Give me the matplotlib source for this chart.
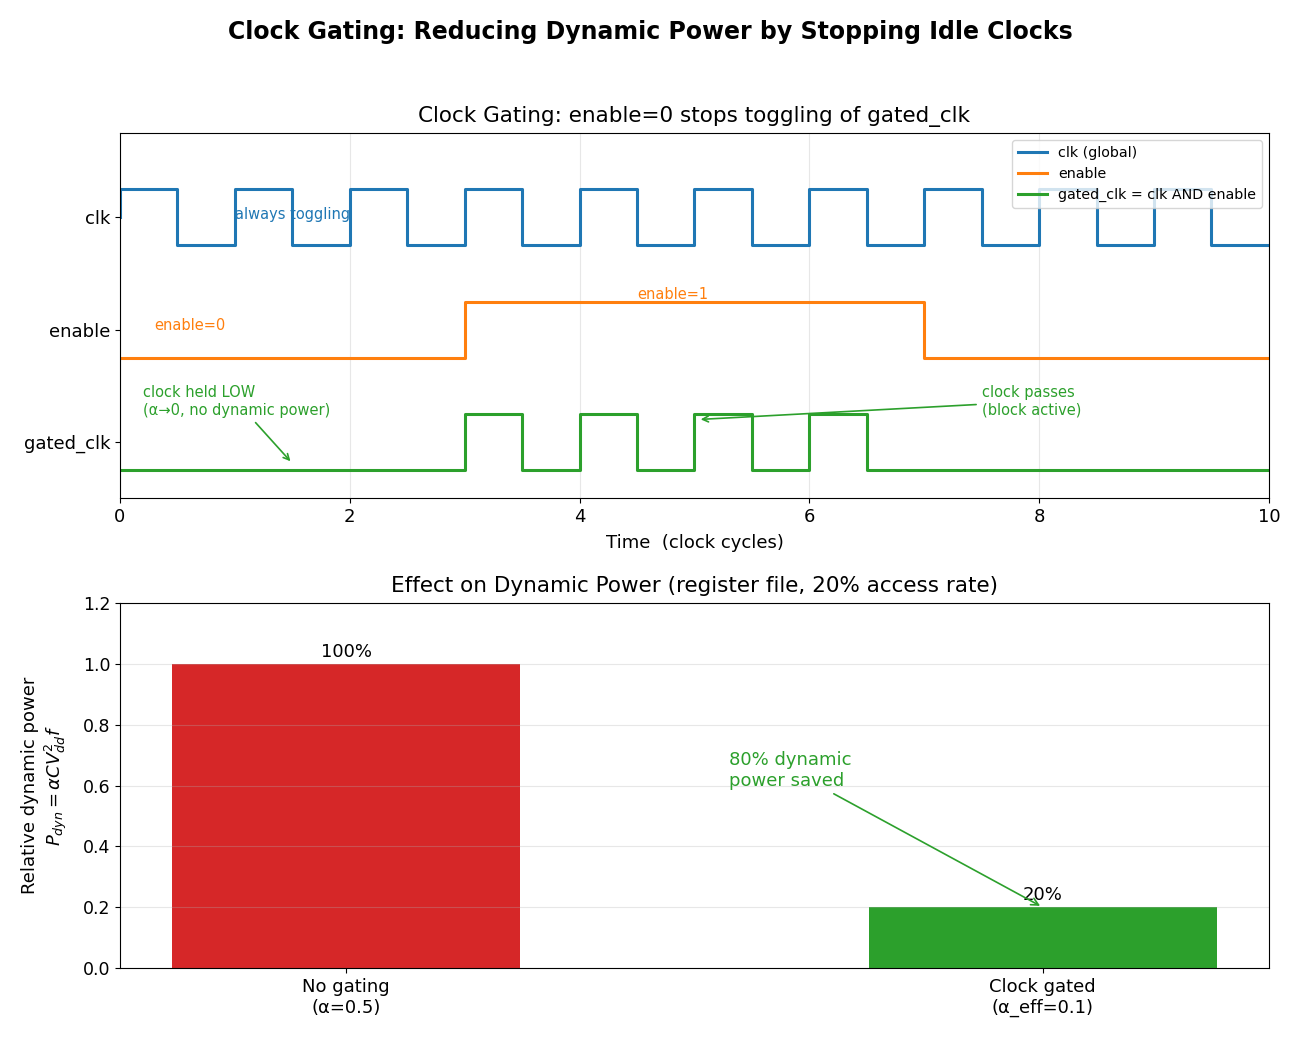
import numpy as np
import matplotlib
matplotlib.use("Agg")
import matplotlib.pyplot as plt

plt.rcParams["font.size"] = 13

# --- data ---
edges = [0, 0.5, 1, 1.5, 2, 2.5, 3, 3.5, 4, 4.5, 5, 5.5, 6, 6.5, 7, 7.5, 8, 8.5, 9, 9.5, 10]
clk = [1, 0, 1, 0, 1, 0, 1, 0, 1, 0, 1, 0, 1, 0, 1, 0, 1, 0, 1, 0, 0]
enable = [0, 0, 0, 0, 0, 0, 1, 1, 1, 1, 1, 1, 1, 1, 0, 0, 0, 0, 0, 0, 0]
gated = [c & e for c, e in zip(clk, enable)]
signal_names = ["gated_clk", "enable", "clk"]
offsets = [0, 2, 4]

bar_labels = ["No gating\n(α=0.5)", "Clock gated\n(α_eff=0.1)"]
bar_values = [1.0, 0.2]
bar_texts = ["100%", "20%"]

fig = plt.figure(figsize=(13, 10.4), dpi=100)
ax1 = fig.add_axes([0.0923, 0.521, 0.8838, 0.351])
ax2 = fig.add_axes([0.0923, 0.0692, 0.8838, 0.351])

t = np.array(edges)
ax1.step(np.r_[0, t], np.r_[4.5, 4 + np.array(clk)], where="post", color="#1f77b4", lw=2.2, label="clk (global)")
ax1.step(t, 2 + np.array(enable), where="post", color="#ff7f0e", lw=2.2, label="enable")
ax1.step(t, 0 + np.array(gated), where="post", color="#2ca02c", lw=2.2, label="gated_clk = clk AND enable")

ax1.set_yticks([o + 0.5 for o in offsets])
ax1.set_yticklabels(signal_names, fontsize=13)
ax1.set_xlim(0, 10)
ax1.set_ylim(-0.5, 6)
ax1.tick_params(axis="x", labelsize=13)
ax1.set_xlabel("Time  (clock cycles)", fontsize=13, labelpad=6)
ax1.set_title("Clock Gating: enable=0 stops toggling of gated_clk", fontsize=15.5, pad=8)
ax1.grid(axis="x", alpha=0.3)
ax1.legend(loc="upper right", fontsize=10.3)

ax1.text(1.0, 4.55, "always toggling", color="#1f77b4", fontsize=10.5, va="center", ha="left")
ax1.text(0.3, 2.57, "enable=0", color="#ff7f0e", fontsize=10.5, va="center", ha="left")
ax1.text(4.5, 3.13, "enable=1", color="#ff7f0e", fontsize=10.5, va="center", ha="left")
ax1.annotate("clock held LOW\n(α→0, no dynamic power)", xy=(1.5, 0.12), xytext=(0.2, 1.22),
             color="#2ca02c", fontsize=10.5, va="center", ha="left",
             arrowprops=dict(arrowstyle="->", color="#2ca02c", lw=1.2))
ax1.annotate("clock passes\n(block active)", xy=(5.03, 0.9), xytext=(7.5, 1.22),
             color="#2ca02c", fontsize=10.5, va="center", ha="left",
             arrowprops=dict(arrowstyle="->", color="#2ca02c", lw=1.2))

x = np.arange(len(bar_values))
ax2.bar(x, bar_values, width=0.5, color=["#d62728", "#2ca02c"])
ax2.set_xticks(x)
ax2.set_xticklabels(bar_labels, fontsize=13)
ax2.set_ylim(0, 1.2)
ax2.tick_params(axis="y", labelsize=12.5)
ax2.set_ylabel("Relative dynamic power\n$P_{dyn} = \\alpha C V_{dd}^2 f$", fontsize=13, labelpad=10)
ax2.set_title("Effect on Dynamic Power (register file, 20% access rate)", fontsize=15.5, pad=8)
ax2.grid(axis="y", alpha=0.3)
for xi, v, s in zip(x, bar_values, bar_texts):
    ax2.text(xi, v + 0.01, s, ha="center", va="bottom", fontsize=13)
ax2.annotate("80% dynamic\npower saved", xy=(1.0, 0.2), xytext=(0.55, 0.65),
             color="#2ca02c", fontsize=13, va="center", ha="left",
             arrowprops=dict(arrowstyle="->", color="#2ca02c", lw=1.2))

fig.suptitle("Clock Gating: Reducing Dynamic Power by Stopping Idle Clocks", fontsize=17,
             fontweight="bold", y=0.981)
fig.savefig("out.png", dpi=100)
